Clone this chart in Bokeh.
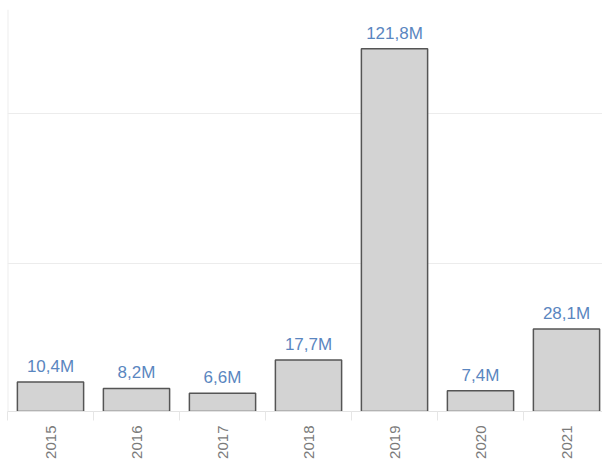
from bokeh.plotting import figure
from bokeh.models import Range1d, FixedTicker, ColumnDataSource, Span
from bokeh.core.properties import value
from bokeh.embed import file_html
from bokeh.resources import INLINE
import math

years = ["2015", "2016", "2017", "2018", "2019", "2020", "2021"]
values_m = [10.4, 8.2, 6.6, 17.7, 121.8, 7.4, 28.1]
value_labels = ["10,4M", "8,2M", "6,6M", "17,7M", "121,8M", "7,4M", "28,1M"]
grid_ticks = [50, 100]

x_pos = [i + 0.5 for i in range(len(years))]
src = ColumnDataSource(dict(x=x_pos, top=values_m, lab=value_labels))

FW, FH = 595, 402
p = figure(frame_width=FW, frame_height=FH, output_backend="svg", toolbar_location=None,
           x_range=Range1d(0, FW / 86.0), y_range=Range1d(0.5, 0.5 + FH / 2.99),
           min_border_left=7, min_border_right=0, min_border_top=9, min_border_bottom=0)
p.outline_line_color = None
p.background_fill_color = "white"
p.border_fill_color = "white"

p.vbar(x="x", top="top", bottom=-3, width=0.77, source=src,
       fill_color="#d3d3d3", line_color="#555555", line_width=1.5)

p.text(x="x", y="top", text="lab", source=src, text_align="center",
       text_baseline="bottom", y_offset=-6, text_color="#5a86c0",
       text_font=value("Liberation Sans"), text_font_size="17px")

p.yaxis.visible = False
p.xgrid.visible = False
p.ygrid.ticker = FixedTicker(ticks=grid_ticks)
p.ygrid.grid_line_color = "#ececec"
p.ygrid.grid_line_width = 1

ax = p.xaxis[0]
ax.ticker = FixedTicker(ticks=x_pos, minor_ticks=list(range(len(years) + 1)))
ax.major_label_overrides = {x: y for x, y in zip(x_pos, years)}
ax.major_label_orientation = math.pi / 2
ax.major_tick_line_color = None
ax.major_tick_out = 0
ax.major_tick_in = 0
ax.minor_tick_line_color = "#e6e6e6"
ax.minor_tick_out = 9
ax.minor_tick_in = 0
ax.axis_line_color = "#e3e3e3"
ax.major_label_standoff = 5
ax.major_label_text_color = "#7a7a7a"
ax.major_label_text_font = "Liberation Sans"
ax.major_label_text_font_size = "15px"

p.add_layout(Span(location=0, dimension="height", line_color="#eeeeee", line_width=2))

open("out.html", "w").write(file_html(p, INLINE))
